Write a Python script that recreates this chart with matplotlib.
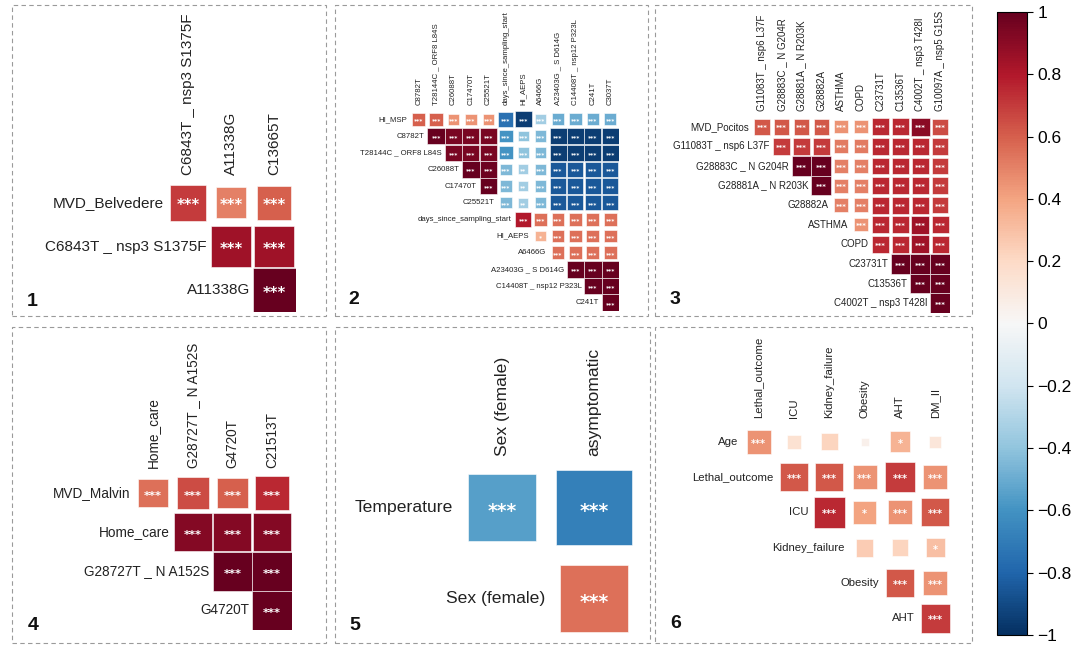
import numpy as np
import matplotlib
matplotlib.use("Agg")
import matplotlib.pyplot as plt
from matplotlib.patches import Rectangle
from matplotlib.colors import Normalize
from matplotlib.cm import ScalarMappable

plt.rcParams['font.family'] = ['Liberation Sans', 'DejaVu Sans']

# ---- panel 1
p1_vars = ["MVD_Belvedere", "C6843T _ nsp3 S1375F", "A11338G", "C13665T"]
p1_r = [[0.70, 0.50, 0.60],
        [0.85, 0.85],
        [1.00]]
p1_sig = [["***", "***", "***"], ["***", "***"], ["***"]]

# ---- panel 2
p2_vars = ["HI_MSP", "C8782T", "T28144C _ ORF8 L84S", "C26088T", "C17470T", "C25521T",
           "days_since_sampling_start", "HI_AEPS", "A6466G", "A23403G _ S D614G",
           "C14408T _ nsp12 P323L", "C241T", "C3037T"]
p2_r = [[0.60, 0.60, 0.45, 0.45, 0.45, -0.75, -0.95, -0.35, -0.50, -0.50, -0.50, -0.50],
        [1.00, 0.95, 0.95, 0.95, -0.60, -0.40, -0.45, -0.95, -0.95, -0.95, -0.95],
        [0.95, 0.95, 0.95, -0.60, -0.40, -0.45, -0.95, -0.95, -0.95, -0.95],
        [1.00, 0.98, -0.45, -0.35, -0.45, -0.85, -0.85, -0.85, -0.85],
        [1.00, -0.45, -0.35, -0.45, -0.85, -0.85, -0.85, -0.85],
        [-0.45, -0.35, -0.45, -0.85, -0.85, -0.85, -0.85],
        [0.80, 0.55, 0.55, 0.55, 0.55, 0.55],
        [0.35, 0.55, 0.55, 0.55, 0.55],
        [0.55, 0.55, 0.55, 0.55],
        [1.00, 1.00, 1.00],
        [1.00, 1.00],
        [1.00]]
p2_sig = [["***"] * 12,
          ["***"] * 11,
          ["***"] * 10,
          ["***", "***", "***", "**", "***", "***", "***", "***", "***"],
          ["***", "***", "**", "***", "***", "***", "***", "***"],
          ["***", "**", "***", "***", "***", "***", "***"],
          ["***"] * 6,
          ["*", "***", "***", "***", "***"],
          ["***"] * 4,
          ["***"] * 3,
          ["***"] * 2,
          ["***"]]

# ---- panel 3
p3_vars = ["MVD_Pocitos", "G11083T _ nsp6 L37F", "G28883C _ N G204R", "G28881A _ N R203K",
           "G28882A", "ASTHMA", "COPD", "C23731T", "C13536T", "C4002T _ nsp3 T428I",
           "G10097A _ nsp5 G15S"]
p3_r = [[0.62, 0.62, 0.62, 0.62, 0.45, 0.45, 0.75, 0.75, 0.90, 0.65],
        [0.70, 0.70, 0.70, 0.52, 0.52, 0.75, 0.75, 0.75, 0.70],
        [1.00, 1.00, 0.50, 0.50, 0.75, 0.75, 0.75, 0.70],
        [1.00, 0.50, 0.50, 0.75, 0.75, 0.75, 0.70],
        [0.50, 0.50, 0.75, 0.75, 0.75, 0.70],
        [0.45, 0.75, 0.75, 0.85, 0.75],
        [0.75, 0.75, 0.85, 0.75],
        [1.00, 1.00, 1.00],
        [1.00, 1.00],
        [1.00]]
p3_sig = [["***"] * (10 - i) for i in range(10)]

# ---- panel 4
p4_vars = ["MVD_Malvin", "Home_care", "G28727T _ N A152S", "G4720T", "C21513T"]
p4_r = [[0.55, 0.65, 0.60, 0.75],
        [0.92, 0.92, 0.92],
        [1.00, 1.00],
        [1.00]]
p4_sig = [["***"] * 4, ["***"] * 3, ["***"] * 2, ["***"]]

# ---- panel 5
p5_vars = ["Temperature", "Sex (female)", "asymptomatic"]
p5_r = [[-0.55, -0.68],
        [0.55]]
p5_sig = [["***", "***"], ["***"]]

# ---- panel 6
p6_vars = ["Age", "Lethal_outcome", "ICU", "Kidney_failure", "Obesity", "AHT", "DM_II"]
p6_r = [[0.45, 0.15, 0.22, 0.05, 0.35, 0.12],
        [0.62, 0.62, 0.45, 0.70, 0.45],
        [0.75, 0.40, 0.45, 0.62],
        [0.25, 0.22, 0.30],
        [0.62, 0.45],
        [0.70]]
p6_sig = [["***", "", "", "", "*", ""],
          ["***"] * 5,
          ["***", "*", "***", "***"],
          ["", "", "*"],
          ["***", "***"],
          ["***"]]

W, H = 1075, 647
fig = plt.figure(figsize=(W / 100, H / 100), dpi=100)
cmap = plt.get_cmap("RdBu_r")
norm = Normalize(-1, 1)


def px_rect(l, t, r, b):
    return [l / W, 1 - b / H, (r - l) / W, (b - t) / H]


def draw_panel(grid, names, vals, sig, fs, star_fs):
    n = len(names) - 1
    ax = fig.add_axes(px_rect(*grid))
    ax.set_xlim(-0.5, n - 0.5)
    ax.set_ylim(n - 0.5, -0.5)
    ax.axis("off")
    for i, row in enumerate(vals):
        for k, r in enumerate(row):
            j = i + k
            s = np.sqrt(abs(r))
            ax.add_patch(Rectangle((j - s / 2, i - s / 2), s, s, facecolor=cmap(norm(r)),
                                   edgecolor="white", linewidth=0.4))
            if sig[i][k]:
                ax.annotate(sig[i][k], (j, i), xytext=(0, -star_fs * 0.52),
                            textcoords="offset points", ha="center", va="baseline",
                            color="white", fontsize=star_fs, family="DejaVu Sans",
                            fontweight="bold")
        ax.annotate(names[i], (i - 0.5, i), xytext=(-2, 0), textcoords="offset points",
                    ha="right", va="center", fontsize=fs, color="#222222",
                    annotation_clip=False)
    for j in range(n):
        ax.annotate(names[j + 1], (j, -0.5), xytext=(0, 4), textcoords="offset points",
                    ha="center", va="bottom", rotation=90, fontsize=fs, color="#222222",
                    annotation_clip=False)
    return ax


draw_panel((166.5, 181, 295.5, 312), p1_vars, p1_r, p1_sig, 11, 10.5)
draw_panel((410, 111, 619, 311), p2_vars, p2_r, p2_sig, 5.6, 4.3)
draw_panel((752, 117, 950, 313), p3_vars, p3_r, p3_sig, 7, 5)
draw_panel((133, 473.5, 292, 629.5), p4_vars, p4_r, p4_sig, 9.8, 8.2)
draw_panel((456, 462, 640, 644), p5_vars, p5_r, p5_sig, 12.6, 13.5)
draw_panel((741, 424, 953, 636), p6_vars, p6_r, p6_sig, 8.2, 7)

# dashed frames and panel numbers
boxes = [(12, 5, 326, 316), (335, 5, 648, 316), (655, 5, 972, 316),
         (12, 327, 326, 643), (335, 327, 650, 643), (655, 327, 972, 643)]
numbers = [(32, 302), (354, 299), (675, 300), (33, 625), (355, 625), (676, 623)]
for k, (l, t, r, b) in enumerate(boxes):
    fig.patches.append(Rectangle((l / W, 1 - b / H), (r - l) / W, (b - t) / H,
                                 transform=fig.transFigure, fill=False,
                                 edgecolor="#9a9a9a", linewidth=0.8,
                                 linestyle=(0, (4, 3))))
    x, y = numbers[k]
    fig.text(x / W, 1 - y / H, str(k + 1), ha="center", va="center",
             fontsize=14, fontweight="bold", color="#111111")

# colorbar
cax = fig.add_axes(px_rect(997, 12, 1027, 635))
cb = fig.colorbar(ScalarMappable(norm=norm, cmap=cmap), cax=cax)
ticks = np.round(np.arange(-1, 1.01, 0.2), 1)
cb.set_ticks(ticks)
cb.set_ticklabels([("%g" % t).replace("-", "\u2212") if t != 0 else "0" for t in ticks])
cb.ax.tick_params(labelsize=12.5, length=4, width=0.8)
cb.outline.set_linewidth(0.8)

fig.savefig("out.png", dpi=100)
